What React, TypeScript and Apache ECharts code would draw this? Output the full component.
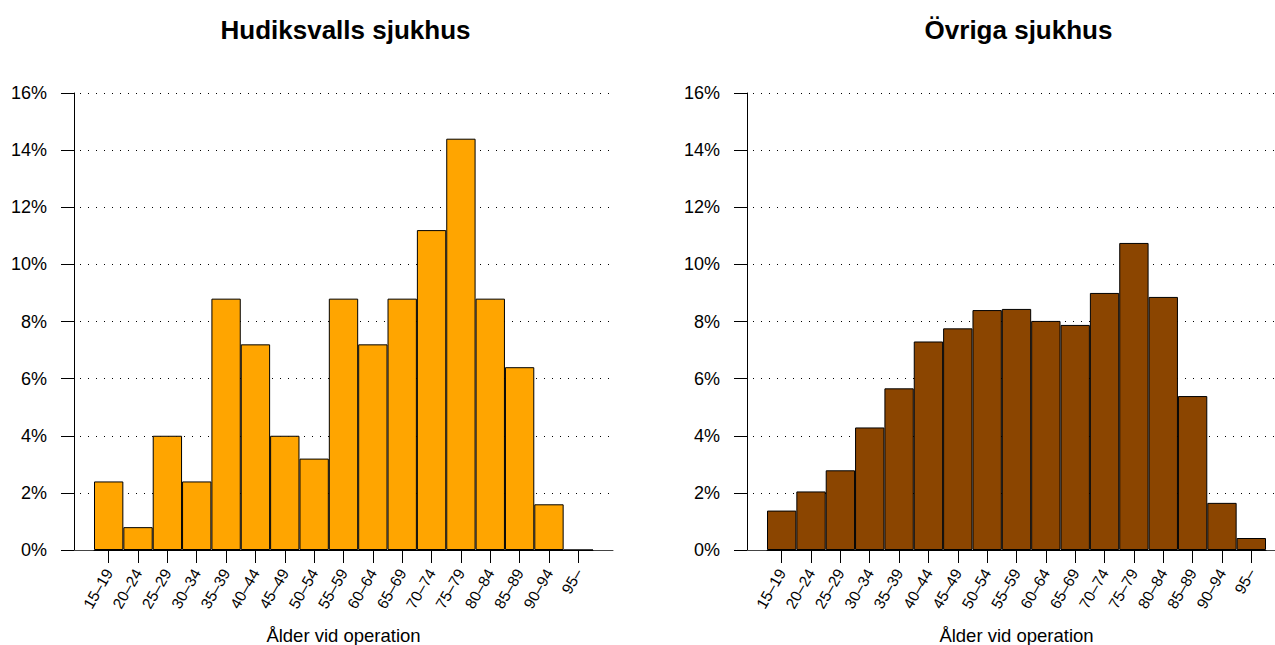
import React, { useEffect, useRef } from "react";
import * as echarts from "echarts";

const categories = ["15–19", "20–24", "25–29", "30–34", "35–39", "40–44", "45–49", "50–54", "55–59", "60–64", "65–69", "70–74", "75–79", "80–84", "85–89", "90–94", "95–"];
const hudiksvall = [2.4, 0.8, 4.0, 2.4, 8.8, 7.2, 4.0, 3.2, 8.8, 7.2, 8.8, 11.2, 14.4, 8.8, 6.4, 1.6, 0];
const ovriga = [1.38, 2.05, 2.79, 4.29, 5.66, 7.3, 7.76, 8.4, 8.44, 8.02, 7.88, 9.0, 10.75, 8.86, 5.39, 1.65, 0.42];
const titles = ["Hudiksvalls sjukhus", "Övriga sjukhus"];
const xAxisTitle = "Ålder vid operation";
const yMin = 0;
const yMax = 16;
const yStep = 2;

const FONT = "'Liberation Sans', Arial, Helvetica, sans-serif";

export default function App() {
  const ref = useRef<HTMLDivElement>(null);
  useEffect(() => {
    if (!ref.current) return;
    const chart = echarts.init(ref.current, null, { renderer: "svg" });
    const panels = [
      { wideLeft: 74, barLeft: 94, color: "#FFA500", data: hudiksvall, title: titles[0] },
      { wideLeft: 747, barLeft: 767, color: "#8B4500", data: ovriga, title: titles[1] },
    ];
    const top = 93;
    const height = 457;
    const wideWidth = 539;
    const barWidth = 499;
    const grids: any[] = [];
    const xAxes: any[] = [];
    const yAxes: any[] = [];
    const series: any[] = [];
    const titleArr: any[] = [];
    panels.forEach((p) => {
      const gWide = grids.length;
      grids.push({ left: p.wideLeft, top, width: wideWidth, height, containLabel: false, outerBoundsMode: "none" });
      const gBar = grids.length;
      grids.push({ left: p.barLeft, top, width: barWidth, height, containLabel: false, outerBoundsMode: "none" });
      xAxes.push({
        type: "value", gridIndex: gWide, min: 0, max: 1,
        axisLine: { show: true, onZero: false, lineStyle: { color: "#444", width: 1 } },
        axisTick: { show: false }, axisLabel: { show: false }, splitLine: { show: false },
      });
      yAxes.push({
        type: "value", gridIndex: gWide, min: yMin, max: yMax, interval: yStep,
        axisLine: { show: true, lineStyle: { color: "#000", width: 1 } },
        axisTick: { show: true, length: 13, lineStyle: { color: "#000", width: 1 } },
        axisLabel: { formatter: "{value}%", color: "#000", fontSize: 18, fontFamily: FONT, margin: 27 },
        splitLine: { show: true, lineStyle: { color: "#000", width: 1, type: [1, 7], dashOffset: -6 } },
      });
      const xBarIdx = xAxes.length;
      xAxes.push({
        type: "category", gridIndex: gBar, data: categories, boundaryGap: true,
        axisLine: { show: true, lineStyle: { color: "#000", width: 1 } },
        axisTick: { show: true, alignWithLabel: true, length: 13, lineStyle: { color: "#000", width: 1 } },
        axisLabel: { rotate: 60, interval: 0, color: "#000", fontSize: 15.5, fontFamily: FONT, margin: 20 },
        name: xAxisTitle, nameLocation: "middle", nameGap: 76,
        nameTextStyle: { color: "#000", fontSize: 18.5, fontFamily: FONT },
        splitLine: { show: false },
      });
      const yBarIdx = yAxes.length;
      yAxes.push({
        type: "value", gridIndex: gBar, min: yMin, max: yMax, interval: yStep, show: false,
      });
      series.push({
        type: "bar", xAxisIndex: xBarIdx, yAxisIndex: yBarIdx, data: p.data,
        barCategoryGap: "0%",
        itemStyle: { color: p.color, borderColor: "#000", borderWidth: 1 },
      });
      titleArr.push({
        text: p.title, left: p.wideLeft + wideWidth / 2 - 3, top: 12, textAlign: "center",
        textStyle: { fontSize: 26, fontWeight: "bold", color: "#000", fontFamily: FONT },
      });
    });
    chart.setOption({
      animation: false,
      backgroundColor: "#fff",
      title: titleArr,
      grid: grids,
      xAxis: xAxes,
      yAxis: yAxes,
      series,
    });
    return () => chart.dispose();
  }, []);
  return <div ref={ref} style={{ position: "absolute", left: 0, top: 0, width: 1275, height: 645 }} />;
}
